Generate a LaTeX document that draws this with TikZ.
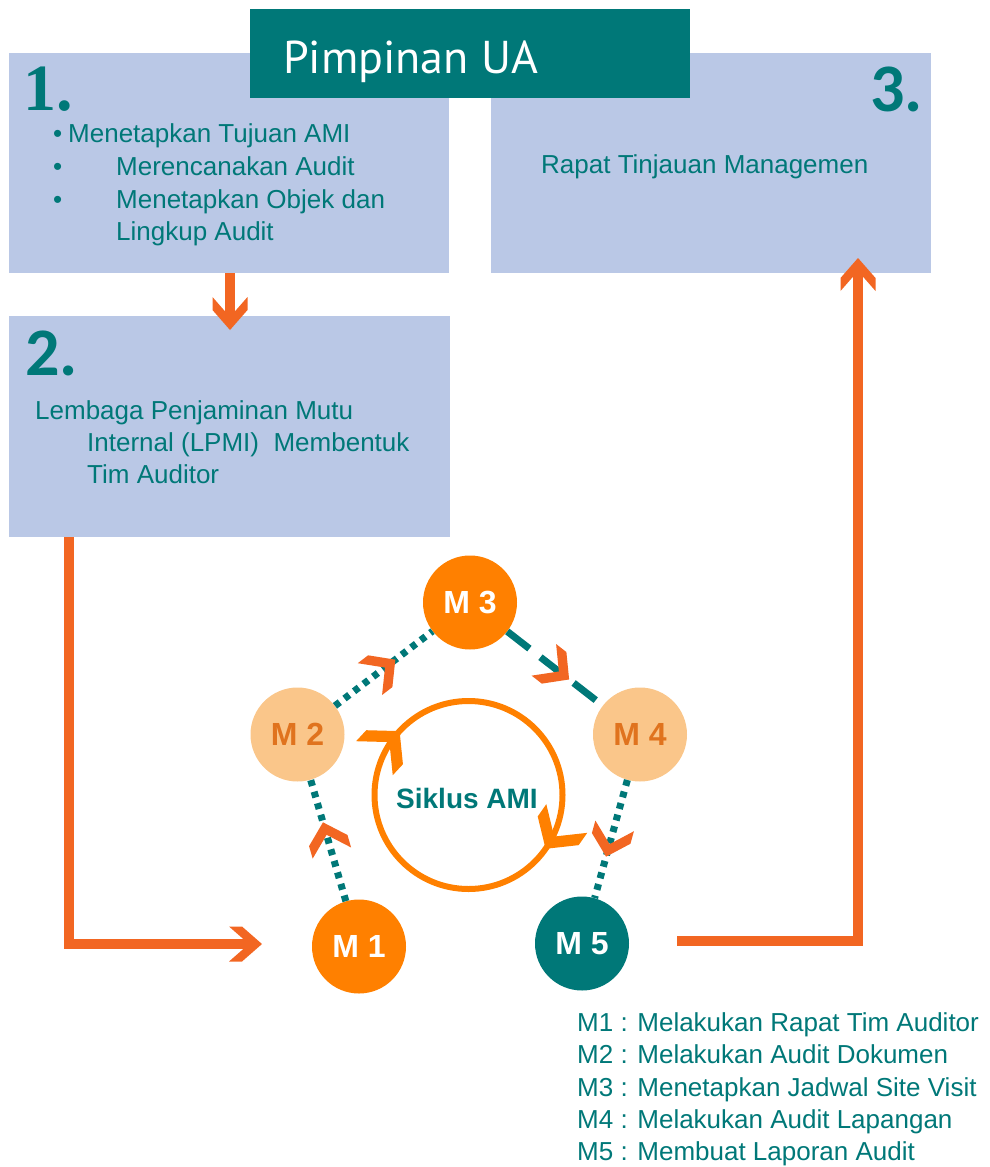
\documentclass[tikz,border=0pt]{standalone}
\usepackage{fontspec}
\setmainfont{Liberation Sans}
\newfontfamily\titlefont{PT Sans}
\newfontfamily\numfont{Carlito}
\newfontfamily\onefont{Liberation Serif}
\usetikzlibrary{arrows.meta,decorations.markings}
\pgfdeclarearrow{
  name = Chev,
  defaults = {length = 20pt, width = 34pt, inset = 12pt},
  setup code = {
    \pgfarrowssettipend{0pt}
    \pgfarrowssetlineend{\dimexpr-\pgfarrowinset+1pt\relax}
    \pgfarrowssetbackend{\dimexpr-\pgfarrowlength-\pgfarrowinset\relax}
    \pgfarrowsupperhullpoint{0pt}{0pt}
    \pgfarrowsupperhullpoint{-\pgfarrowlength}{.5\pgfarrowwidth}
    \pgfarrowsupperhullpoint{\dimexpr-\pgfarrowlength-\pgfarrowinset\relax}{.5\pgfarrowwidth}
    \pgfarrowssavethe\pgfarrowlength
    \pgfarrowssavethe\pgfarrowwidth
    \pgfarrowssavethe\pgfarrowinset
  },
  drawing code = {
    \pgfpathmoveto{\pgfqpoint{0pt}{0pt}}
    \pgfpathlineto{\pgfqpoint{-\pgfarrowlength}{.5\pgfarrowwidth}}
    \pgfpathlineto{\pgfqpoint{\dimexpr-\pgfarrowlength-\pgfarrowinset\relax}{.5\pgfarrowwidth}}
    \pgfpathlineto{\pgfqpoint{-\pgfarrowinset}{0pt}}
    \pgfpathlineto{\pgfqpoint{\dimexpr-\pgfarrowlength-\pgfarrowinset\relax}{-.5\pgfarrowwidth}}
    \pgfpathlineto{\pgfqpoint{-\pgfarrowlength}{-.5\pgfarrowwidth}}
    \pgfpathclose
    \pgfusepathqfill
  },
  parameters = {\the\pgfarrowlength,\the\pgfarrowwidth,\the\pgfarrowinset},
}
\definecolor{boxblue}{RGB}{186,200,230}
\definecolor{tealc}{RGB}{0,120,120}
\definecolor{arrowor}{RGB}{242,102,34}
\definecolor{circor}{RGB}{255,128,0}
\definecolor{lightor}{RGB}{250,198,138}
\definecolor{mtxt}{RGB}{224,115,30}
\begin{document}
\begin{tikzpicture}[x=1pt,y=-1pt,
  box/.style={fill=boxblue, draw=none, inner sep=0pt, anchor=north west},
  txt/.style={text=tealc, anchor=base west, inner sep=0pt, font=\fontsize{26}{31}\selectfont},
  numtxt/.style={text=tealc, anchor=base west, inner sep=0pt},
  circ/.style={circle, minimum size=94pt, inner sep=0pt, font=\bfseries\fontsize{32}{38}\selectfont},
  bigarrow/.style={draw=arrowor, line width=10pt, line join=miter,
    -{Chev[length=20pt,width=35pt,inset=13pt]}},
  conn/.style={draw=tealc, line width=7pt, dash pattern=on 6pt off 6pt,
    postaction={decorate},
    decoration={markings, mark=at position #1 with {\arrow{Chev[color=arrowor,length=19pt,width=40pt,inset=13pt]}}}},
  conn/.default=0.6,
  ring/.style={draw=circor, line width=6pt,
    postaction={decorate},
    decoration={markings,
      mark=at position 0.097 with {\arrow{Chev[color=circor,length=22pt,width=50pt,inset=15pt]}},
      mark=at position 0.619 with {\arrow{Chev[color=circor,length=22pt,width=50pt,inset=15pt]}}}},
]
\useasboundingbox (0,0) rectangle (989,1167);

% boxes
\node[box, minimum width=440pt, minimum height=220pt] (b1) at (9,53) {};
\node[box, minimum width=440pt, minimum height=220pt] (b3) at (491,53) {};
\node[box, minimum width=441pt, minimum height=221pt] (b2) at (9,316) {};
\node[fill=tealc, inner sep=0pt, anchor=north west, minimum width=440pt, minimum height=89pt] (ua) at (250,9) {};
\node[text=white, anchor=base west, inner sep=0pt, font=\titlefont\fontsize{46}{54}\selectfont] (uat) at (283,73) {Pimpinan UA};

% numbers
\node[numtxt, font=\onefont\bfseries\fontsize{66}{72}\selectfont] (n1) at (23,110) {1.};
\node[numtxt, font=\numfont\bfseries\fontsize{68}{74}\selectfont] (n2) at (25,375) {2.};
\node[numtxt, font=\numfont\bfseries\fontsize{68}{74}\selectfont] (n3) at (870,111) {3.};

% box 1 text
\node[txt] (bl1) at (53,142) {•};
\node[txt] (t1a) at (68,142) {Menetapkan Tujuan AMI};
\node[txt] (bl2) at (53,175) {•};
\node[txt] (t1b) at (116,175) {Merencanakan Audit};
\node[txt] (bl3) at (53,208) {•};
\node[txt] (t1c) at (116,208) {Menetapkan Objek dan};
\node[txt] (t1d) at (116,240) {Lingkup Audit};

% box 2 text
\node[txt] (t2a) at (35,419) {Lembaga Penjaminan Mutu};
\node[txt] (t2b) at (87,451) {Internal (LPMI)\ \ Membentuk};
\node[txt] (t2c) at (87,483) {Tim Auditor};

% box 3 text
\node[txt] (t3a) at (541,173) {Rapat Tinjauan Managemen};

% main arrows
\coordinate (a1e) at (230,330);
\draw[bigarrow] (b1.south -| a1e) -- (a1e);
\coordinate (a2x) at (69,944);
\coordinate (a2e) at (262,944);
\draw[bigarrow] (b2.south -| a2x) -- (a2x) -- (a2e);
\coordinate (a3s) at (677,941);
\coordinate (a3c) at (858,941);
\coordinate (a3e) at (858,258);
\draw[bigarrow] (a3s) -- (a3c) -- (a3e);

% circles
\node[circ, fill=circor, text=white] (m3) at (470,602.5) {M 3};
\node[circ, fill=lightor, text=mtxt] (m2) at (297.5,734.5) {M 2};
\node[circ, fill=lightor, text=mtxt] (m4) at (640,734.5) {M 4};
\node[circ, fill=circor, text=white] (m1) at (359,946.5) {M 1};
\node[circ, fill=tealc, text=white] (m5) at (582,943.5) {M 5};

% connectors
\draw[conn=0.65] (m1) -- (m2);
\draw[conn=0.62] (m2) -- (m3);
\draw[conn=0.65, dash pattern=on 28pt off 14pt] (m3) -- (m4);
\draw[conn=0.65] (m4) -- (m5);

% cycle ring
\coordinate (rc) at (468.5,795);
\draw[ring] (rc) ++(0:94) arc[start angle=0, end angle=360, radius=94];
\node[text=tealc, anchor=base, inner sep=0pt, font=\bfseries\fontsize{28}{32}\selectfont] (sik) at (467,808) {Siklus AMI};

% legend
\node[txt] (l1) at (577,1031) {M1 : Melakukan Rapat Tim Auditor};
\node[txt] (l2) at (577,1063) {M2 : Melakukan Audit Dokumen};
\node[txt] (l3) at (577,1096) {M3 : Menetapkan Jadwal Site Visit};
\node[txt] (l4) at (577,1128) {M4 : Melakukan Audit Lapangan};
\node[txt] (l5) at (577,1160) {M5 : Membuat Laporan Audit};
\end{tikzpicture}
\end{document}
